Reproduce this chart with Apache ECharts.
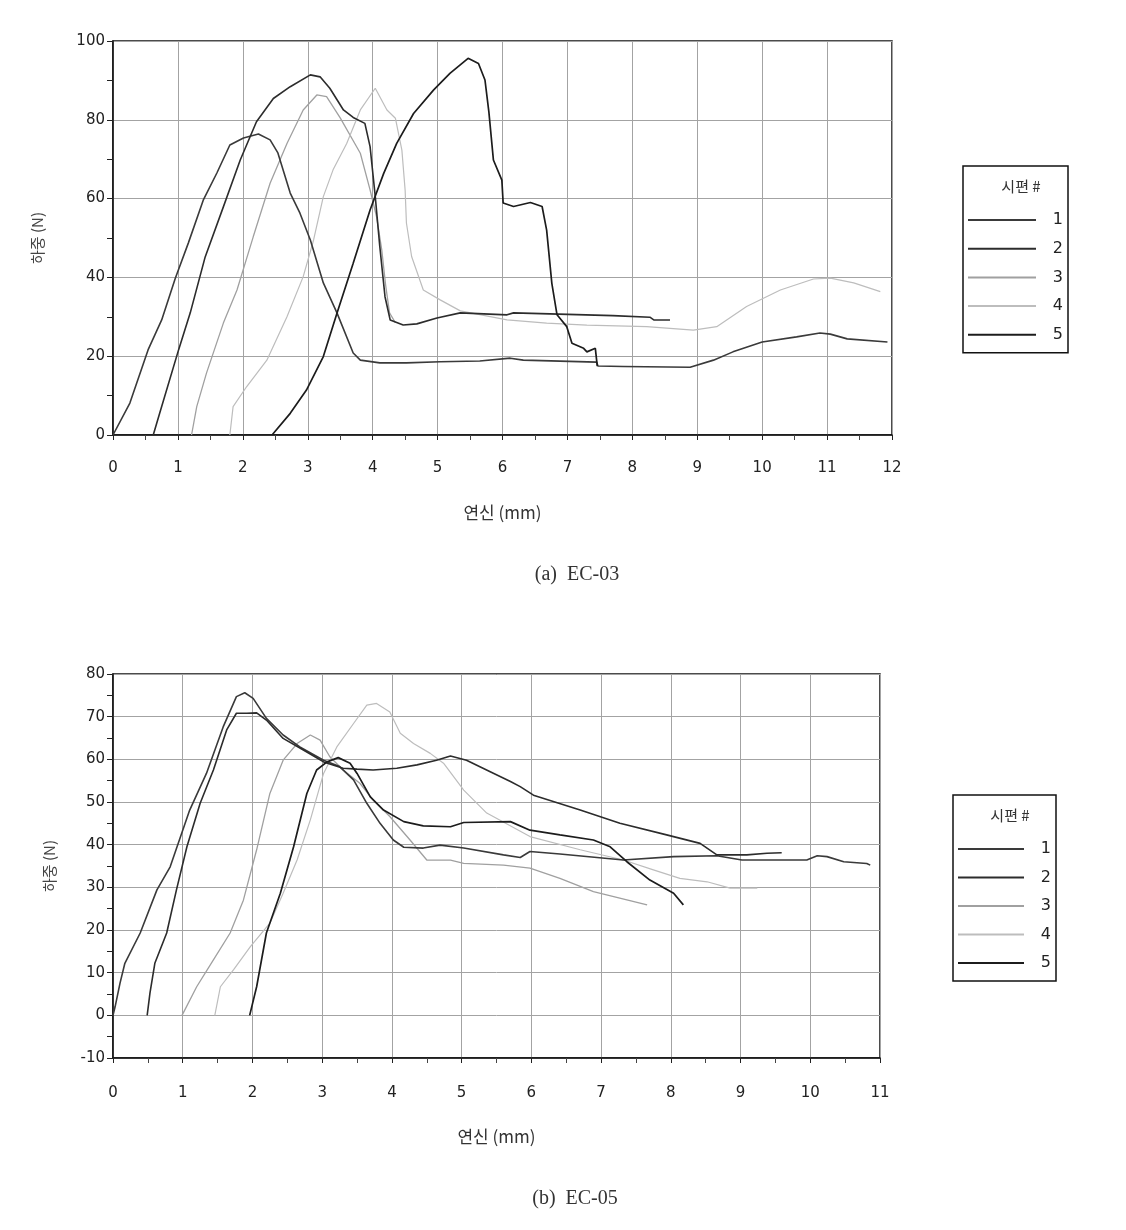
<!DOCTYPE html>
<html>
<head>
<meta charset="utf-8">
<script src="https://cdn.jsdelivr.net/npm/echarts@6/dist/echarts.min.js"></script>
<style>
html,body{margin:0;padding:0;background:#fff;}
#c{width:1126px;height:1230px;}
</style>
</head>
<body>
<div id="c"></div>
<script>
// ---- DATA ----
var seriesNames = ['1', '2', '3', '4', '5'];
var xTicksA = [0,1,2,3,4,5,6,7,8,9,10,11,12];
var yTicksA = [0,20,40,60,80,100];
var xTicksB = [0,1,2,3,4,5,6,7,8,9,10,11];
var yTicksB = [-10,0,10,20,30,40,50,60,70,80];

// (a) EC-03 : [elongation mm, load N]
var ec03_1 = [[0,0],[0.26,8.1],[0.54,21.6],[0.75,29.2],[0.96,39.8],[1.16,48.7],[1.39,59.6],[1.6,66.5],[1.8,73.6],[2.01,75.4],[2.24,76.4],[2.42,74.9],[2.54,71.6],[2.73,61.4],[2.88,56.3],[3.04,49.5],[3.24,38.6],[3.45,31],[3.7,20.8],[3.81,19],[4.11,18.3],[4.52,18.3],[5.04,18.6],[5.65,18.8],[6.12,19.5],[6.32,19],[7.45,18.5],[7.47,17.5],[7.86,17.4],[8.89,17.2],[9.25,19],[9.55,21.1],[10,23.6],[10.53,24.9],[10.89,25.9],[11.05,25.6],[11.31,24.4],[11.93,23.6]];
var ec03_2 = [[0.62,0],[0.72,5.6],[1.01,21.6],[1.19,31],[1.42,45.2],[1.7,57.9],[1.96,69.8],[2.21,79.5],[2.47,85.4],[2.73,88.4],[3.04,91.4],[3.19,90.9],[3.34,88],[3.55,82.5],[3.7,80.6],[3.88,79.1],[3.96,73.2],[4.04,60.5],[4.11,47.8],[4.19,35.1],[4.27,29.2],[4.47,27.9],[4.68,28.2],[4.99,29.7],[5.35,31],[6.07,30.5],[6.17,31],[7.7,30.3],[8.27,29.9],[8.33,29.2],[8.58,29.2]];
var ec03_3 = [[1.21,0],[1.29,7.2],[1.44,15.7],[1.7,28.4],[1.91,36.8],[2.16,50.3],[2.42,63.9],[2.68,74],[2.93,82.5],[3.14,86.3],[3.29,85.9],[3.5,80.5],[3.81,71.5],[3.96,62.2],[4.06,55.4],[4.14,47],[4.2,38],[4.26,31],[4.35,28.5]];
var ec03_4 = [[1.8,0],[1.85,7.2],[2.06,12.3],[2.37,19],[2.68,30],[2.93,40.2],[3.09,49.5],[3.24,60.5],[3.39,67.3],[3.6,74],[3.81,82.5],[4.04,88],[4.22,82.5],[4.35,80.4],[4.45,72.3],[4.5,62.2],[4.52,53.8],[4.6,45.3],[4.78,36.8],[5.04,34.3],[5.35,31.5],[6.07,29.2],[6.68,28.4],[7.3,27.9],[8.22,27.5],[8.94,26.6],[9.3,27.5],[9.76,32.6],[10.28,36.8],[10.79,39.6],[11.05,39.8],[11.41,38.6],[11.82,36.4]];
var ec03_5 = [[2.45,0],[2.73,5.5],[2.98,11.4],[3.24,19.9],[3.45,30.9],[3.7,43.6],[3.96,57.1],[4.17,66.4],[4.37,74],[4.63,81.6],[4.94,87.6],[5.19,91.8],[5.47,95.6],[5.63,94.3],[5.73,90.1],[5.79,82],[5.86,69.8],[5.99,64.7],[6.01,58.9],[6.17,58],[6.43,59],[6.61,58],[6.68,52],[6.76,38.5],[6.84,30.5],[6.99,27.5],[7.07,23.3],[7.25,22],[7.3,21.1],[7.43,22],[7.46,17.5]];

// (b) EC-05
var ec05_1 = [[0,0],[0.03,2],[0.1,7.5],[0.17,12.2],[0.39,19.3],[0.63,29.4],[0.82,34.8],[1.1,48.1],[1.34,56.7],[1.58,67.6],[1.77,74.7],[1.89,75.6],[2.01,74.3],[2.2,69.6],[2.44,65.7],[2.68,62.9],[3.02,59.8],[3.25,58.3],[3.45,55.2],[3.64,49.7],[3.83,45],[4.02,41.1],[4.17,39.4],[4.45,39.2],[4.69,39.9],[5.03,39.2],[5.6,37.6],[5.84,37],[5.98,38.4],[6.41,37.8],[7.32,36.4],[8.04,37.2],[8.66,37.4],[9.02,36.4],[9.95,36.4],[10.1,37.4],[10.24,37.2],[10.48,36],[10.81,35.6],[10.86,35.2]];
var ec05_2 = [[0.49,0],[0.53,5.2],[0.6,12.2],[0.77,19.3],[0.91,29.4],[1.06,39.5],[1.25,49.7],[1.44,57.5],[1.63,66.9],[1.77,70.8],[1.92,70.8],[2.06,70.9],[2.2,69.2],[2.44,64.9],[2.73,62.2],[3.02,59.4],[3.3,57.9],[3.5,57.7],[3.73,57.5],[4.07,57.9],[4.36,58.7],[4.64,59.8],[4.84,60.8],[5.07,59.8],[5.41,57.1],[5.7,54.8],[5.84,53.6],[6.03,51.6],[6.7,48.1],[7.27,45],[7.94,42.3],[8.42,40.3],[8.66,37.6],[9.09,37.6],[9.38,38],[9.59,38.1]];
var ec05_3 = [[0.99,0],[1.2,6.7],[1.44,13],[1.68,19.3],[1.87,27],[2.06,38.8],[2.25,52],[2.44,59.8],[2.64,63.7],[2.83,65.7],[2.97,64.5],[3.11,60.6],[3.3,57.5],[3.54,54.4],[3.73,50.5],[3.97,46.6],[4.26,41.1],[4.5,36.4],[4.84,36.4],[5.03,35.6],[5.6,35.2],[5.98,34.5],[6.41,32.1],[6.89,29],[7.66,25.9]];
var ec05_4 = [[1.46,0],[1.54,6.7],[1.73,10.7],[1.97,16.1],[2.25,21.6],[2.44,28.6],[2.64,36.4],[2.83,45.8],[3.02,56.7],[3.21,62.9],[3.45,68.4],[3.64,72.7],[3.78,73.1],[3.97,71.1],[4.12,66.1],[4.31,63.7],[4.55,61.4],[4.74,59.1],[5.03,52.8],[5.36,47.4],[5.98,41.9],[6.7,38.8],[7.32,36.4],[7.75,34.1],[8.13,32.1],[8.52,31.3],[8.85,29.8],[9.24,29.8]];
var ec05_5 = [[1.96,0],[2.06,6.7],[2.2,19.3],[2.4,28.6],[2.59,39.5],[2.78,52],[2.92,57.5],[3.07,59.4],[3.23,60.4],[3.4,59.1],[3.5,56.7],[3.69,51.2],[3.88,48.1],[4.17,45.4],[4.45,44.4],[4.84,44.2],[5.03,45.2],[5.7,45.4],[5.98,43.4],[6.41,42.3],[6.89,41.1],[7.13,39.5],[7.37,36],[7.7,31.7],[8.04,28.6],[8.18,25.9]];

var chartA = [ec03_1, ec03_2, ec03_3, ec03_4, ec03_5];
var chartB = [ec05_1, ec05_2, ec05_3, ec05_4, ec05_5];

// ---- STYLE ----
var lineColors = ['#3a3a3a', '#2c2c2c', '#a0a0a0', '#bdbdbd', '#1c1c1c'];
var lineWidths = [1.6, 1.6, 1.3, 1.2, 1.7];
var labelFont = 'DejaVu Sans';
var krFont = 'Noto Sans CJK KR';

function xAxisCfg(grid, max, ticks, labelMargin, nameGap) {
  return {
    type: 'value', gridIndex: grid, min: ticks[0], max: max, interval: 1,
    axisLine: {show: true, onZero: false, lineStyle: {color: '#111', width: 1.5}},
    axisTick: {show: true, length: 5, lineStyle: {color: '#222'}},
    minorTick: {show: true, splitNumber: 2, length: 5, lineStyle: {color: '#444'}},
    splitLine: {show: true, lineStyle: {color: '#a3a3a3', width: 1}},
    axisLabel: {fontFamily: labelFont, fontSize: 15, color: '#222', margin: labelMargin},
    name: '연신 (mm)', nameLocation: 'middle', nameGap: nameGap,
    nameTextStyle: {fontFamily: krFont, fontSize: 17, color: '#333'}
  };
}
function yAxisCfg(grid, ticks, interval, nameGap) {
  return {
    type: 'value', gridIndex: grid, min: ticks[0], max: ticks[ticks.length - 1], interval: interval,
    axisLine: {show: true, onZero: false, lineStyle: {color: '#111', width: 1.5}},
    axisTick: {show: true, length: 6, lineStyle: {color: '#222'}},
    minorTick: {show: true, splitNumber: 2, length: 6, lineStyle: {color: '#222'}},
    splitLine: {show: true, lineStyle: {color: '#a3a3a3', width: 1}},
    axisLabel: {fontFamily: labelFont, fontSize: 15, color: '#222', margin: 8},
    name: '하중 (N)', nameLocation: 'middle', nameGap: nameGap, nameRotate: 90,
    nameTextStyle: {fontFamily: krFont, fontSize: 15, color: '#444'}
  };
}

var series = [];
[chartA, chartB].forEach(function (chart, g) {
  chart.forEach(function (data, i) {
    series.push({
      type: 'line', name: seriesNames[i], xAxisIndex: g, yAxisIndex: g,
      data: data, symbol: 'none', showSymbol: false, smooth: false,
      lineStyle: {color: lineColors[i], width: lineWidths[i]},
      itemStyle: {color: lineColors[i]},
      z: i === 2 || i === 3 ? 2 : 3
    });
  });
});

function legendCfg(left, top, gap, iw) {
  return {
    orient: 'vertical', left: left, top: top, data: seriesNames,
    itemWidth: iw, itemHeight: 14, itemGap: gap,
    padding: [46, 5, 10, 4],
    borderColor: '#111', borderWidth: 1.5,
    selectedMode: false,
    itemStyle: {opacity: 0, borderWidth: 0},
    formatter: '{n|{name}}',
    textStyle: {rich: {n: {width: 22, align: 'right', fontFamily: labelFont, fontSize: 16, color: '#222'}}}
  };
}

var option = {
  animation: false,
  backgroundColor: '#fff',
  grid: [
    {left: 113, top: 41, width: 779, height: 394, show: true, borderColor: '#111', borderWidth: 1.5},
    {left: 113, top: 674, width: 767, height: 384, show: true, borderColor: '#111', borderWidth: 1.5}
  ],
  xAxis: [xAxisCfg(0, 12, xTicksA, 26, 69), xAxisCfg(1, 11, xTicksB, 28, 70)],
  yAxis: [yAxisCfg(0, yTicksA, 20, 68), yAxisCfg(1, yTicksB, 10, 56)],
  legend: [legendCfg(963, 166, 12.7, 68), legendCfg(953, 795, 12.5, 66)],
  title: [
    {text: '시편 #', left: 1016, top: 174, textAlign: 'center', textStyle: {fontFamily: krFont, fontSize: 15, fontWeight: 'normal', color: '#333'}},
    {text: '시편 #', left: 1005, top: 803, textAlign: 'center', textStyle: {fontFamily: krFont, fontSize: 15, fontWeight: 'normal', color: '#333'}},
    {text: '(a)  EC-03', left: 572, top: 560, textAlign: 'center', textStyle: {fontFamily: 'Liberation Serif', fontSize: 20, fontWeight: 'normal', color: '#333'}},
    {text: '(b)  EC-05', left: 570, top: 1184, textAlign: 'center', textStyle: {fontFamily: 'Liberation Serif', fontSize: 20, fontWeight: 'normal', color: '#333'}}
  ],
  series: series
};

var chart = echarts.init(document.getElementById('c'), null, {renderer: 'canvas'});
chart.setOption(option);
</script>
</body>
</html>
